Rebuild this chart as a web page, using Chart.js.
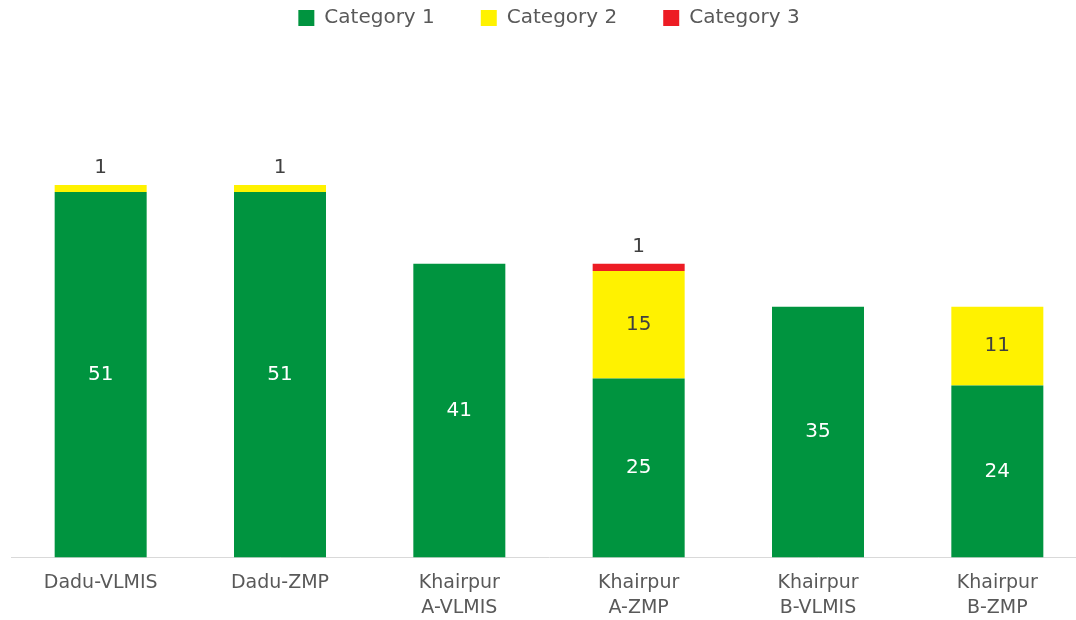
<!DOCTYPE html>
<html>
<head>
<meta charset="utf-8">
<script src="https://cdn.jsdelivr.net/npm/chart.js@4/dist/chart.umd.min.js"></script>
<style>
  html, body { margin: 0; padding: 0; background: #fff; overflow: hidden; }
  #wrap { position: relative; width: 1087px; height: 620px; }
</style>
</head>
<body>
<div id="wrap"><canvas id="chart"></canvas></div>
<script>
// chart data
const labels = [
    'Dadu-VLMIS',
    'Dadu-ZMP',
    ['Khairpur', 'A-VLMIS'],
    ['Khairpur', 'A-ZMP'],
    ['Khairpur', 'B-VLMIS'],
    ['Khairpur', 'B-ZMP']
];
const category1 = [51, 51, 41, 25, 35, 24];
const category2 = [1, 1, null, 15, null, 11];
const category3 = [null, null, null, 1, null, null];

const COLORS = ['#00943F', '#FFF200', '#ED1C24'];
const FONT = "'DejaVu Sans', sans-serif";

// draws the value labels inside / above segments
const valueLabels = {
    id: 'valueLabels',
    afterDatasetsDraw(chart) {
        const ctx = chart.ctx;
        const n = chart.data.labels.length;
        ctx.save();
        ctx.font = '20px ' + FONT;
        ctx.textAlign = 'center';
        ctx.textBaseline = 'middle';
        for (let i = 0; i < n; i++) {
            chart.data.datasets.forEach((ds, di) => {
                const v = ds.data[i];
                if (v == null) return;
                const bar = chart.getDatasetMeta(di).data[i];
                if (v < 5) {
                    ctx.fillStyle = '#404040';
                    ctx.fillText(v, bar.x, bar.y - 17);
                } else {
                    ctx.fillStyle = di === 0 ? '#ffffff' : '#404040';
                    ctx.fillText(v, bar.x, (bar.y + bar.base) / 2);
                }
            });
        }
        ctx.restore();
    }
};

new Chart(document.getElementById('chart'), {
    type: 'bar',
    data: {
        labels,
        datasets: [
            { label: 'Category 1', data: category1, backgroundColor: COLORS[0] },
            { label: 'Category 2', data: category2, backgroundColor: COLORS[1] },
            { label: 'Category 3', data: category3, backgroundColor: COLORS[2] }
        ]
    },
    options: {
        responsive: true,
        maintainAspectRatio: false,
        animation: false,
        layout: { padding: { left: 11, right: 0, top: -38, bottom: -13 } },
        datasets: { bar: { categoryPercentage: 1, barPercentage: 0.513 } },
        plugins: {
            legend: {
                position: 'top',
                labels: {
                    color: '#595959',
                    font: { family: FONT, size: 20 },
                    boxWidth: 16,
                    boxHeight: 16,
                    padding: 46
                }
            },
            tooltip: { enabled: false }
        },
        scales: {
            x: {
                stacked: true,
                grid: { display: false, drawTicks: false },
                border: { color: '#D9D9D9', width: 1 },
                ticks: {
                    color: '#595959',
                    font: { family: FONT, size: 19, lineHeight: 1.3 },
                    padding: 13,
                    maxRotation: 0,
                    autoSkip: false
                }
            },
            y: {
                stacked: true,
                min: 0,
                max: 72.5,
                display: false
            }
        }
    },
    plugins: [valueLabels]
});
</script>
</body>
</html>
